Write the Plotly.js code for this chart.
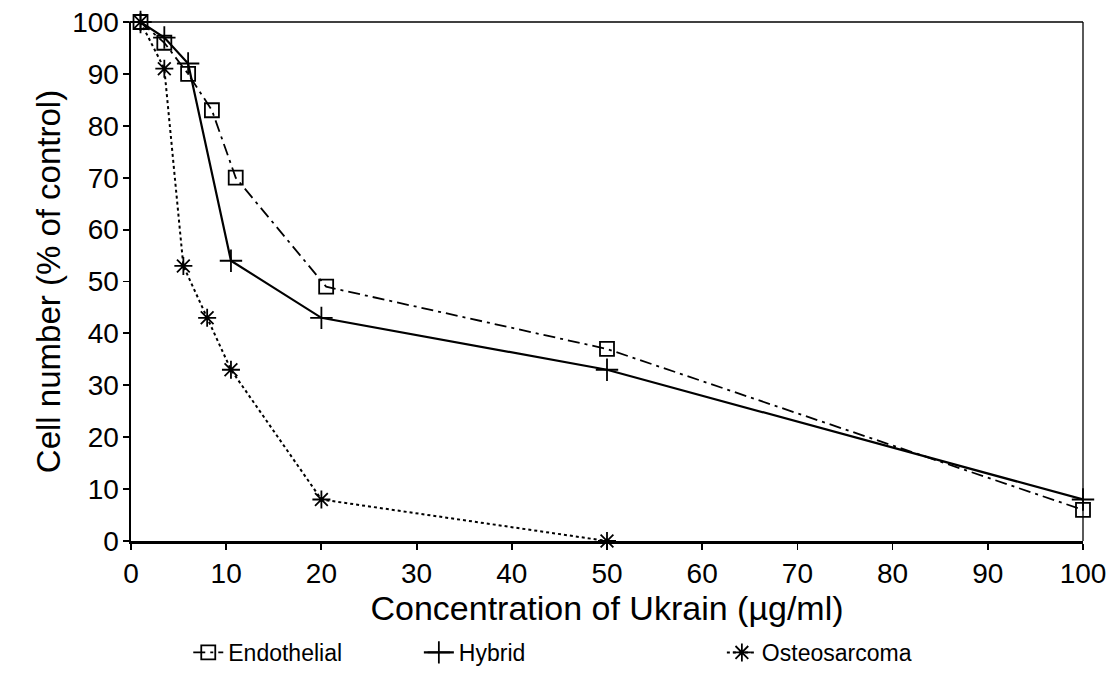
<!DOCTYPE html>
<html>
<head>
<meta charset="utf-8">
<script src="https://cdn.plot.ly/plotly-3.0.1.min.js"></script>
<style>html,body{margin:0;padding:0;background:#fff;}#chart{width:1114px;height:674px;}</style>
</head>
<body>
<div id="chart"></div>
<script>
// Data
const endoConc = [1, 3.5, 6, 8.5, 11, 20.5, 50, 100];
const endoCells = [100, 96, 90, 83, 70, 49, 37, 6];
const hybConc = [1, 3.5, 6, 10.5, 20, 50, 100];
const hybCells = [100, 97, 92, 54, 43, 33, 8];
const osteoConc = [1, 3.5, 5.5, 8, 10.5, 20, 50];
const osteoCells = [100, 91, 53, 43, 33, 8, 0];
const xTicks = [0, 10, 20, 30, 40, 50, 60, 70, 80, 90, 100];
const yTicks = [0, 10, 20, 30, 40, 50, 60, 70, 80, 90, 100];
const seriesNames = ['Endothelial', 'Hybrid', 'Osteosarcoma'];

const FONT = '"Liberation Sans", Arial, Helvetica, sans-serif';

const traces = [
  {
    x: endoConc, y: endoCells, name: seriesNames[0], mode: 'lines+markers',
    line: {color: '#000', width: 1.8, dash: '12px,5px,3px,5px'},
    marker: {symbol: 'square-open', size: 14, color: '#000', line: {width: 1.8}},
    cliponaxis: false, legend: 'legend'
  },
  {
    x: hybConc, y: hybCells, name: seriesNames[1], mode: 'lines+markers',
    line: {color: '#000', width: 2.2},
    marker: {symbol: 'cross-thin-open', size: 16, color: '#000', line: {width: 1.8, color: '#000'}},
    cliponaxis: false, legend: 'legend2'
  },
  {
    x: osteoConc, y: osteoCells, name: seriesNames[2], mode: 'lines+markers',
    line: {color: '#000', width: 2, dash: 'dot'},
    marker: {symbol: 'asterisk-open', size: 15, color: '#000', line: {width: 1.8, color: '#000'}},
    cliponaxis: false, legend: 'legend3'
  }
];

const legendBase = {
  orientation: 'h', yanchor: 'middle', xanchor: 'left', yref: 'container', xref: 'container', y: 0.032,
  font: {family: FONT, size: 23, color: '#000'}, bgcolor: 'rgba(0,0,0,0)'
};

const layout = {
  width: 1114, height: 674,
  margin: {l: 131, r: 31, t: 22, b: 133},
  paper_bgcolor: '#fff', plot_bgcolor: '#fff',
  font: {family: FONT, color: '#000'},
  showlegend: true,
  legend: Object.assign({}, legendBase, {x: 0.169}),
  legend2: Object.assign({}, legendBase, {x: 0.376}),
  legend3: Object.assign({}, legendBase, {x: 0.648}),
  xaxis: {
    range: [0, 100], tickvals: xTicks, ticktext: xTicks.map(String),
    showgrid: false, zeroline: false, showline: true, linecolor: '#000', linewidth: 2.5,
    ticks: 'outside', ticklen: 6, tickwidth: 1.8, tickcolor: '#000',
    tickfont: {family: FONT, size: 28, color: '#000'},
    title: {text: 'Concentration of Ukrain (µg/ml)', font: {family: FONT, size: 34, color: '#000'}, standoff: 0}
  },
  yaxis: {
    range: [0, 100], tickvals: yTicks, ticktext: yTicks.map(String),
    showgrid: false, zeroline: false, showline: true, linecolor: '#000', linewidth: 2.5,
    ticks: 'outside', ticklen: 6, tickwidth: 1.8, tickcolor: '#000',
    ticklabelstandoff: -2,
    tickfont: {family: FONT, size: 28, color: '#000'},
    title: {text: 'Cell number (% of control)', font: {family: FONT, size: 33, color: '#000'}, standoff: 2}
  },
  shapes: [
    {type: 'line', xref: 'paper', yref: 'paper', x0: 0, x1: 1, y0: 1, y1: 1, line: {color: '#000', width: 1.3}},
    {type: 'line', xref: 'paper', yref: 'paper', x0: 1, x1: 1, y0: 0, y1: 1, line: {color: '#000', width: 1.3}}
  ]
};

Plotly.newPlot('chart', traces, layout, {staticPlot: true});
</script>
</body>
</html>
